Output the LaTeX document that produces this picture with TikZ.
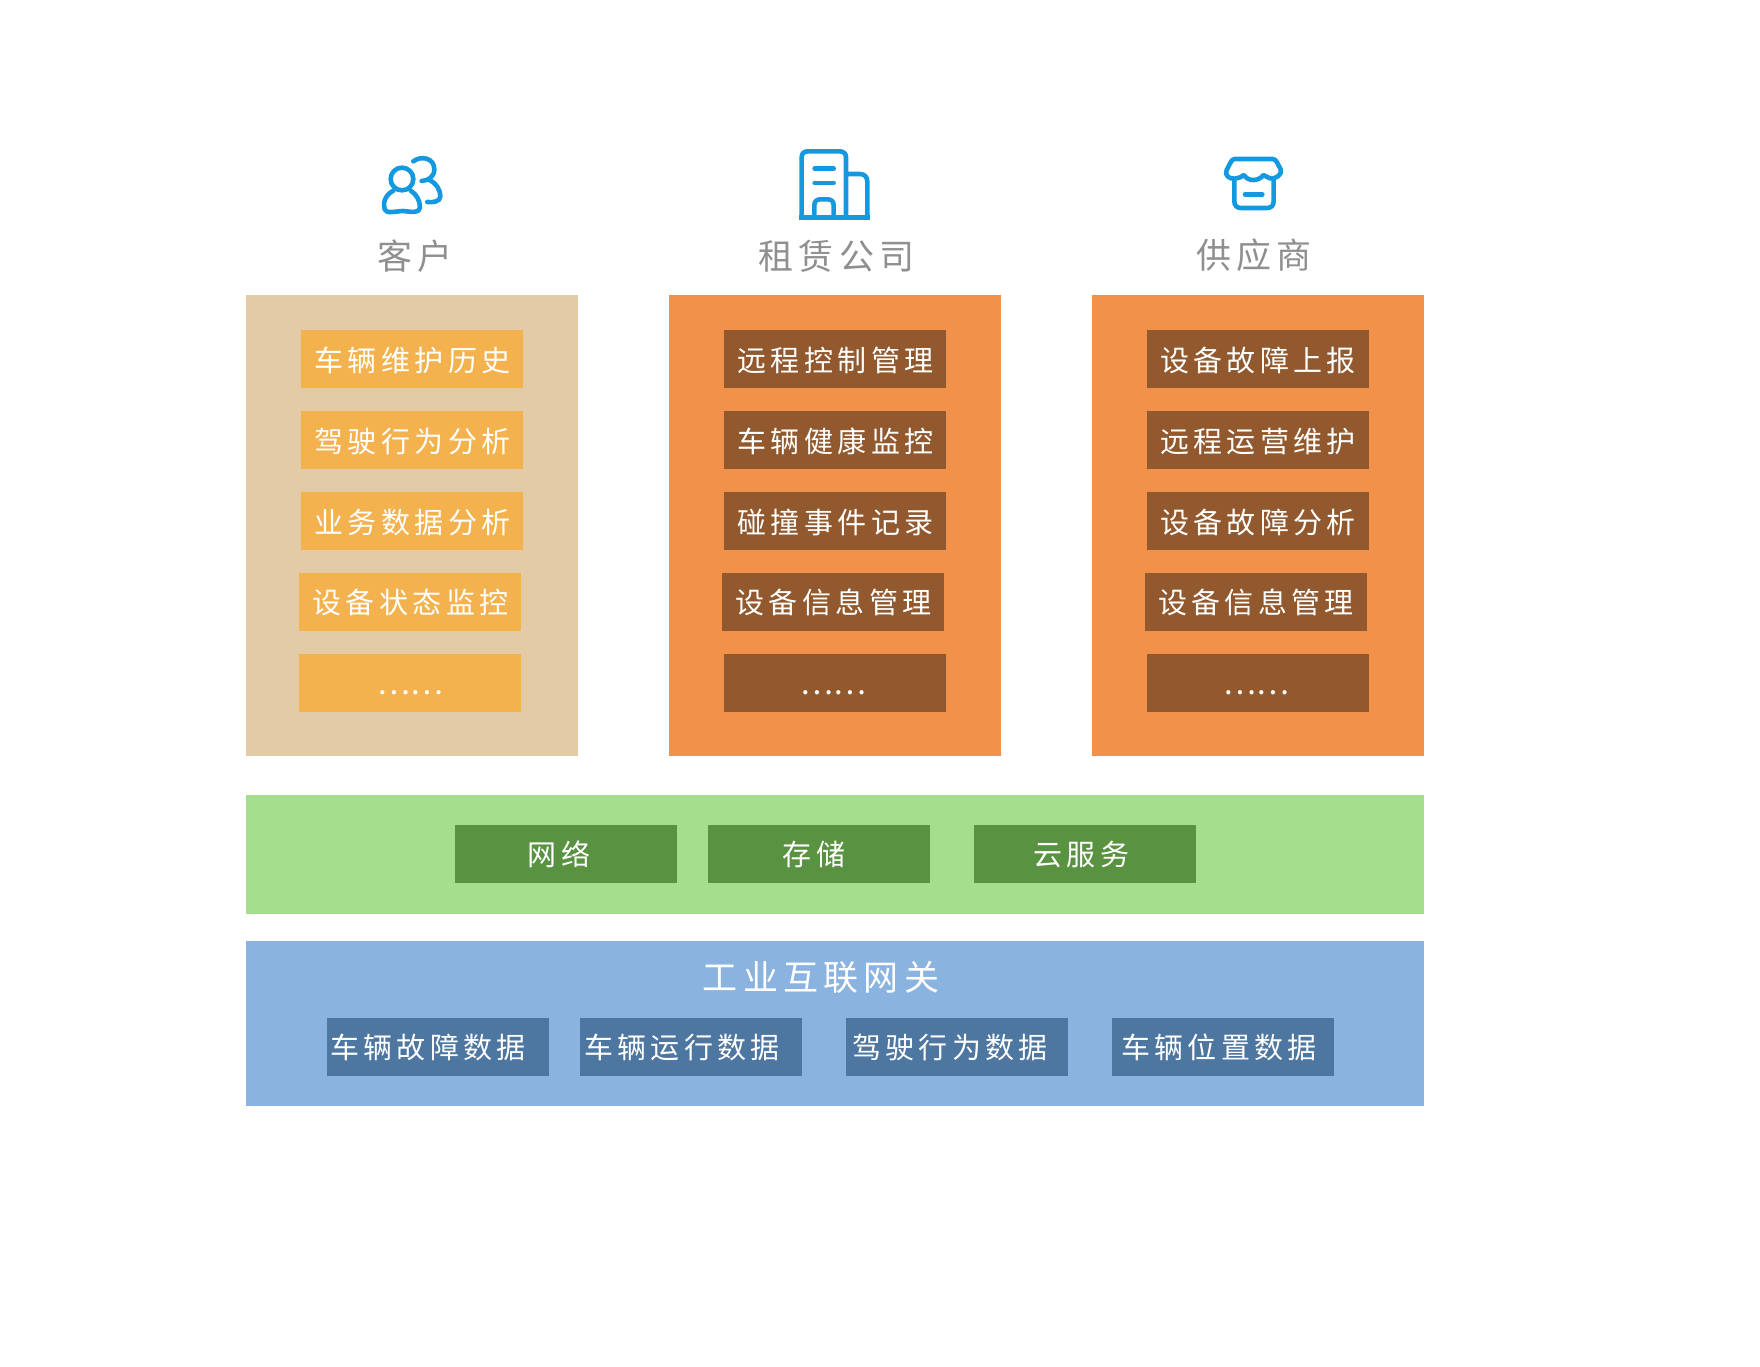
\documentclass[tikz,border=0pt]{standalone}
\usepackage{fontspec}
\newfontfamily\cjk[LetterSpace=15]{Noto Sans CJK SC}
\newfontfamily\cjkplain{Noto Sans CJK SC}
\definecolor{tanbg}{HTML}{E3CBA5}
\definecolor{orangebg}{HTML}{F2914A}
\definecolor{itemyel}{HTML}{F3B24E}
\definecolor{itembrown}{HTML}{91592D}
\definecolor{greenbg}{HTML}{A5DE8C}
\definecolor{itemgreen}{HTML}{599241}
\definecolor{bluebg}{HTML}{8BB3DF}
\definecolor{itemblue}{HTML}{4D76A1}
\definecolor{iconblue}{HTML}{1499E0}
\definecolor{titlegray}{HTML}{8F8F8F}
\tikzset{
  panel/.style={anchor=north west,inner sep=0pt,outer sep=0pt},
  itembox/.style={panel,minimum width=222pt,minimum height=58pt,text=white,font=\cjk\fontsize{29}{29}\selectfont},
  titletext/.style={inner sep=0pt,text=titlegray,font=\cjk\fontsize{35}{35}\selectfont},
  icon/.style={draw=iconblue,line width=4.6pt,line cap=round,line join=round}
}
% [drop], name, x, y, fill, shift (twice the offset of the text, in pt), text
\newcommand{\bx}[7][11]{\node[itembox,fill=#5] (#2) at (#3,#4) {\makebox[0pt]{\hspace*{#6pt}\raisebox{-#1pt}[0pt][0pt]{#7}}};}
% name, x, y, fill, shift
\newcommand{\bxdots}[5]{\node[itembox,fill=#4] (#1) at (#2,#3) {\makebox[0pt]{\hspace*{#5pt}\raisebox{-11.5pt}[0pt][0pt]{\cjkplain\fontsize{31}{31}\selectfont ……}}};}
\begin{document}
\begin{tikzpicture}[x=1pt,y=-1pt]
\useasboundingbox (0,0) rectangle (1760,1366);
\fill[white] (0,0) rectangle (1760,1366);
% panels
\node[panel,fill=tanbg,minimum width=332pt,minimum height=461pt] (pA) at (246,295) {};
\node[panel,fill=orangebg,minimum width=332pt,minimum height=461pt] (pB) at (669,295) {};
\node[panel,fill=orangebg,minimum width=332pt,minimum height=461pt] (pC) at (1092,295) {};
\node[panel,fill=greenbg,minimum width=1178pt,minimum height=119pt] (pG) at (246,795) {};
\node[panel,fill=bluebg,minimum width=1178pt,minimum height=165pt] (pN) at (246,941) {};
% titles
\node[titletext] (tA) at (415,256) {客户};
\node[titletext] (tB) at (836.5,256) {租赁公司};
\node[titletext] (tC) at (1254,255) {供应商};
\node[titletext,text=white] (tN) at (821,977) {工业互联网关};
% column 1
\bx[12.5]{a1}{301}{330}{itemyel}{1}{车辆维护历史}
\bx[12.5]{a2}{301}{411}{itemyel}{1}{驾驶行为分析}
\bx[12.5]{a3}{301}{492}{itemyel}{1}{业务数据分析}
\bx{a4}{299}{573}{itemyel}{1}{设备状态监控}
\bxdots{a5}{299}{654}{itemyel}{0}
% column 2
\bx[12.5]{b1}{724}{330}{itembrown}{1}{远程控制管理}
\bx[12.5]{b2}{724}{411}{itembrown}{1}{车辆健康监控}
\bx[12.5]{b3}{724}{492}{itembrown}{1}{碰撞事件记录}
\bx{b4}{722}{573}{itembrown}{1}{设备信息管理}
\bxdots{b5}{724}{654}{itembrown}{-4}
% column 3
\bx[12.5]{c1}{1147}{330}{itembrown}{0}{设备故障上报}
\bx[12.5]{c2}{1147}{411}{itembrown}{0}{远程运营维护}
\bx[12.5]{c3}{1147}{492}{itembrown}{0}{设备故障分析}
\bx{c4}{1145}{573}{itembrown}{0}{设备信息管理}
\bxdots{c5}{1147}{654}{itembrown}{-4}
% green
\bx{g1}{455}{825}{itemgreen}{-14}{网络}
\bx{g2}{708}{825}{itemgreen}{-10}{存储}
\bx{g3}{974}{825}{itemgreen}{-7}{云服务}
% blue
\bx{n1}{327}{1018}{itemblue}{-20}{车辆故障数据}
\bx{n2}{580}{1018}{itemblue}{-18}{车辆运行数据}
\bx{n3}{846}{1018}{itemblue}{-14}{驾驶行为数据}
\bx{n4}{1112}{1018}{itemblue}{-8}{车辆位置数据}
% icon: people
\begin{scope}[shift={(340,120)},x=0.3333pt,y=-0.3333pt]
\draw[icon] (186,177) circle (34);
\draw[icon] (160,212) .. controls (130,228) and (130,255) .. (134,268) .. controls (138,282) and (165,274) .. (190,273) .. controls (215,276) and (240,280) .. (240,262) .. controls (240,240) and (228,222) .. (212,212);
\draw[icon] (220,124) .. controls (245,105) and (283,115) .. (283,148) .. controls (283,170) and (265,182) .. (245,183);
\draw[icon] (268,180) .. controls (290,190) and (302,212) .. (301,230) .. controls (300,245) and (280,248) .. (262,246);
\end{scope}
% icon: building
\begin{scope}[shift={(740,120)},x=0.3333pt,y=-0.3333pt]
\draw[icon,line cap=butt,line join=miter] (185,292) -- (185,112) .. controls (185,100) and (192,94) .. (204,94) -- (298,94) .. controls (310,94) and (318,100) .. (318,112) -- (318,292);
\draw[icon,line cap=butt] (318,162) -- (358,162) .. controls (374,162) and (382,170) .. (382,186) -- (382,292);
\draw[icon,line cap=butt] (178,292) -- (390,292);
\draw[icon] (224,145) -- (281,145);
\draw[icon] (224,189) -- (281,189);
\draw[icon,line cap=butt] (223,292) -- (223,256) .. controls (223,244) and (230,238) .. (242,238) -- (262,238) .. controls (274,238) and (281,244) .. (281,256) -- (281,292);
\end{scope}
% icon: shop
\begin{scope}[shift={(1140,120)},x=0.3333pt,y=-0.3333pt]
\draw[icon] (284,117) -- (398,117) .. controls (405,117) and (408,122) .. (411,127) -- (422,148) .. controls (428,165) and (405,178) .. (390,175) .. controls (382,172) and (376,168) .. (370,165) .. controls (360,182) and (325,188) .. (312,165) .. controls (305,170) and (295,176) .. (285,176) .. controls (268,178) and (252,165) .. (260,150) -- (272,127) .. controls (275,122) and (278,117) .. (284,117);
\draw[icon] (283,178) -- (283,243) .. controls (283,257) and (290,264) .. (304,264) -- (380,264) .. controls (394,264) and (401,257) .. (401,243) -- (401,178);
\draw[icon] (315,223) -- (367,223);
\end{scope}
\end{tikzpicture}
\end{document}
